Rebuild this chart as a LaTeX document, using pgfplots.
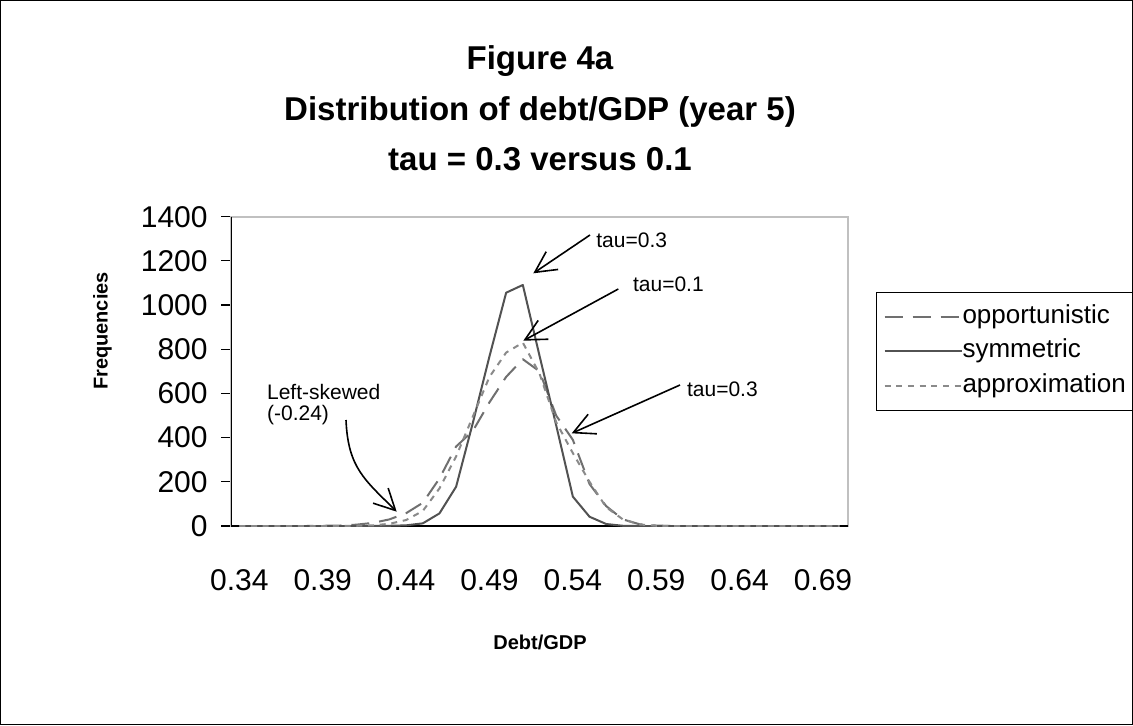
\documentclass[border=0pt]{standalone}
\usepackage{pgfplots}
\pgfplotsset{compat=1.18}
\usepackage{pgfplotstable}
\usepackage{fontspec}
\setmainfont{Liberation Sans}
\usetikzlibrary{arrows.meta}
\definecolor{oppc}{RGB}{112,112,112}
\definecolor{symc}{RGB}{82,82,82}
\definecolor{appc}{RGB}{138,138,138}
\definecolor{framec}{RGB}{192,192,192}

\pgfplotstableread{
idx opp sym app
0 0 0 0
1 0 0 0
2 0 0 0
3 0 0 0
4 0 0 0
5 1 0 0
6 2 0 0
7 6 0 1
8 14 0 3
9 30 1 10
10 58 3 27
11 105 12 68
12 215 57 170
13 360 178 315
14 430 466 495
15 560 768 675
16 675 1056 785
17 755 1091 830
18 700 771 690
19 500 456 470
20 390 133 330
21 190 42 200
22 90 9 85
23 30 1 30
24 8 0 7
25 2 0 1
26 0 0 0
27 0 0 0
28 0 0 0
29 0 0 0
30 0 0 0
31 0 0 0
32 0 0 0
33 0 0 0
34 0 0 0
35 0 0 0
36 0 0 0
}\datatable

\begin{document}
\begin{tikzpicture}
\useasboundingbox (0,0) rectangle (566.5pt,362.5pt);
\fill[white] (0,0) rectangle (566.5pt,362.5pt);
\draw[black, line width=0.6pt] (0.3pt,0.3pt) rectangle (566.2pt,362.2pt);
\begin{axis}[
  at={(115.5pt,99.5pt)}, anchor=south west,
  scale only axis, width=308.5pt, height=154.65pt,
  xmin=-0.5, xmax=36.5, ymin=0, ymax=1400,
  xtick={0,5,...,35},
  xticklabels={0.34,0.39,0.44,0.49,0.54,0.59,0.64,0.69},
  ytick={0,200,...,1400},
  ytick pos=left, xtick pos=bottom,
  tick align=outside,
  xtick style={draw=none},
  ytick style={black, line width=0.6pt},
  major tick length=5pt,
  axis line style={draw=framec, line width=1pt},
  tick label style={font=\fontsize{15}{18}\selectfont},
  /pgf/number format/assume math mode=true,
  /pgf/number format/1000 sep={},
  xticklabel style={anchor=base, inner sep=0pt, yshift=-27pt},
  yticklabel style={anchor=east, inner sep=0pt, xshift=-6.5pt},
  legend style={at={(1.0454,0.7566)}, anchor=north west, draw=black, line width=0.5pt,
    font=\fontsize{13}{15}\selectfont, inner xsep=3.5pt, inner ysep=6.2pt,
    row sep=5.2pt, cells={anchor=west},
    nodes={inner sep=0pt, text height=9.3pt, text depth=2.7pt},
    /tikz/every even column/.append style={column sep=3pt}},
  legend image code/.code={\draw[#1] (0pt,0pt) -- (38.5pt,0pt);},
]
\draw[black, line width=0.6pt] (rel axis cs:0,1) -- (rel axis cs:0,0) -- (rel axis cs:1,0);
\addplot[oppc, line width=1pt, line join=round, dash pattern=on 9pt off 5pt] table[x=idx, y=opp] {\datatable};
\addlegendentry{opportunistic}
\addplot[symc, line width=1pt, line join=round] table[x=idx, y=sym] {\datatable};
\addlegendentry{symmetric}
\addplot[appc, line width=1pt, line join=round, dash pattern=on 3pt off 2.85pt] table[x=idx, y=app] {\datatable};
\addlegendentry{approximation}
\end{axis}
\begin{scope}[x=0.5pt, y=-0.5pt, yshift=362.5pt]
\node[anchor=base, inner sep=0pt, font=\bfseries\fontsize{16.5}{20}\selectfont] at (540,70) {Figure 4a};
\node[anchor=base, inner sep=0pt, font=\bfseries\fontsize{16.5}{20}\selectfont] at (540,120) {Distribution of debt/GDP (year 5)};
\node[anchor=base, inner sep=0pt, font=\bfseries\fontsize{16.5}{20}\selectfont] at (540,170) {tau = 0.3 versus 0.1};
\node[anchor=base, inner sep=0pt, font=\bfseries\fontsize{10}{12}\selectfont] at (540,649) {Debt/GDP};
\node[anchor=base, rotate=90, inner sep=0pt, font=\bfseries\fontsize{10}{12}\selectfont] at (107.5,331) {Frequencies};
\begin{scope}[font=\fontsize{10.5}{12.5}\selectfont]
\node[anchor=base west, inner sep=0pt] at (596,247) {tau=0.3};
\node[anchor=base west, inner sep=0pt] at (632.7,291.7) {tau=0.1};
\node[anchor=base west, inner sep=0pt] at (686.7,396.7) {tau=0.3};
\node[anchor=base west, inner sep=0pt] at (266.7,399) {Left-skewed};
\node[anchor=base west, inner sep=0pt] at (266.7,420) {(-0.24)};
\end{scope}
\begin{scope}[line width=0.8pt, -{Straight Barb[length=10.5pt, width=10.7pt]}]
\draw (590,235) -- (533.3,273.3);
\draw (618.3,289) -- (523.3,340.7);
\draw (680,385) -- (571.7,433.3);
\draw (346,420) .. controls (348,468) and (365,480) .. (396.7,511.7);
\end{scope}
\end{scope}
\end{tikzpicture}
\end{document}
